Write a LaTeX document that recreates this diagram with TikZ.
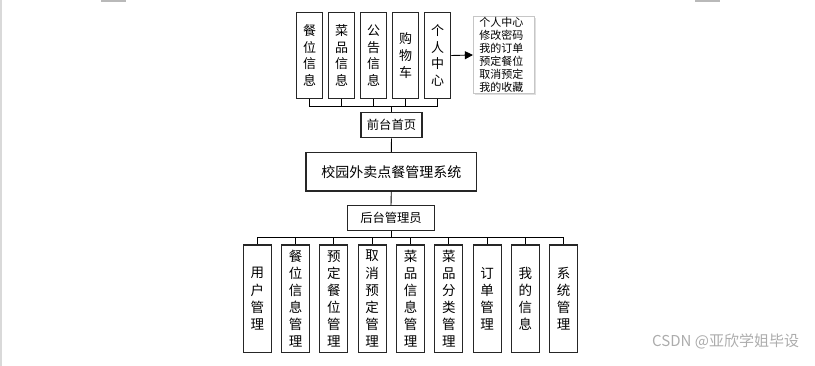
\documentclass[tikz,border=0pt]{standalone}
\usepackage{fontspec}
\newfontfamily\cjk{Noto Sans CJK SC}
\usetikzlibrary{arrows.meta,shadows}
\begin{document}
\begin{tikzpicture}[x=1pt,y=-1pt,
  box/.style={draw=black!85,line width=1.1pt,fill=white,inner sep=0pt,align=center},
  topbox/.style={box,minimum width=26pt,minimum height=85.6pt,font=\cjk\fontsize{13}{16.7}\selectfont},
  botbox/.style={box,minimum width=28pt,minimum height=107.3pt,font=\cjk\fontsize{13.5}{17.1}\selectfont},
  hbox/.style={box,font=\cjk\fontsize{12.3}{15}\selectfont},
  conn/.style={draw=black,line width=0.9pt},
  callout/.style={draw=gray!45,line width=0.8pt,fill=white,align=left,inner sep=0pt,
    minimum width=61pt,minimum height=76.6pt,text width=49pt,
    font=\cjk\fontsize{11}{13.1}\selectfont,
    drop shadow={shadow xshift=1.5pt,shadow yshift=-1.5pt,opacity=0.25}},
  mark/.style={fill=gray!55,draw=none}
]
\useasboundingbox (0,0) rectangle (815,366);
\fill[gray!30] (0.3,0) rectangle (1.8,366);
\fill[gray!55] (101,0) rectangle (126,1.6);
\fill[gray!55] (695,0) rectangle (720,1.6);

% top row
\node[topbox] (t1) at (309.7,55.5) {餐\\位\\信\\息};
\node[topbox] (t2) at (341.7,55.5) {菜\\品\\信\\息};
\node[topbox] (t3) at (373.7,55.5) {公\\告\\信\\息};
\node[topbox] (t4) at (405.7,55.5) {购\\物\\车};
\node[topbox] (t5) at (437.7,55.5) {个\\人\\中\\心};

\node[callout] (cb) at (503.8,55) {个人中心\\修改密码\\我的订单\\预定餐位\\取消预定\\我的收藏};
\draw[conn,-{Triangle[length=8pt,width=8pt]}] (t5.east) -- (cb.west);

\node[hbox,minimum width=61pt,minimum height=25.3pt] (qt) at (391.5,125.3) {前台首页};
\node[box,minimum width=170.7pt,minimum height=38.7pt,font=\cjk\fontsize{14}{16}\selectfont] (sys) at (391.3,171.7) {校园外卖点餐管理系统};
\node[hbox,minimum width=87.4pt,minimum height=25pt] (ht) at (391,218.2) {后台管理员};

\coordinate (tbus) at (391,106);
\draw[conn] (t1.south) -- (t1.south |- tbus) -- (t5.south |- tbus) -- (t5.south);
\foreach \n in {t2,t3,t4} \draw[conn] (\n.south) -- (\n.south |- tbus);
\draw[conn] (qt.north) -- (qt.north |- tbus);
\draw[conn] (qt.south) -- (sys.north);
\draw[conn] (sys.south) -- (ht.north);

% bottom row
\node[botbox] (b1) at (257.3,298.7) {用\\户\\管\\理};
\node[botbox] (b2) at (295.6,298.7) {餐\\位\\信\\息\\管\\理};
\node[botbox] (b3) at (333.9,298.7) {预\\定\\餐\\位\\管\\理};
\node[botbox] (b4) at (372.2,298.7) {取\\消\\预\\定\\管\\理};
\node[botbox] (b5) at (410.5,298.7) {菜\\品\\信\\息\\管\\理};
\node[botbox] (b6) at (448.8,298.7) {菜\\品\\分\\类\\管\\理};
\node[botbox] (b7) at (487.1,298.7) {订\\单\\管\\理};
\node[botbox] (b8) at (525.4,298.7) {我\\的\\信\\息};
\node[botbox] (b9) at (563.7,298.7) {系\\统\\管\\理};

\coordinate (bbus) at (391,237.5);
\draw[conn] (b1.north) -- (b1.north |- bbus) -- (b9.north |- bbus) -- (b9.north);
\foreach \n in {b2,b3,b4,b5,b6,b7,b8} \draw[conn] (\n.north) -- (\n.north |- bbus);
\draw[conn] (ht.south) -- (ht.south |- bbus);

\node[anchor=west,text=gray!65,inner sep=0pt,font=\cjk\fontsize{15}{16}\selectfont] (wm) at (652,341.7) {CSDN @亚欣学姐毕设};
\end{tikzpicture}
\end{document}
